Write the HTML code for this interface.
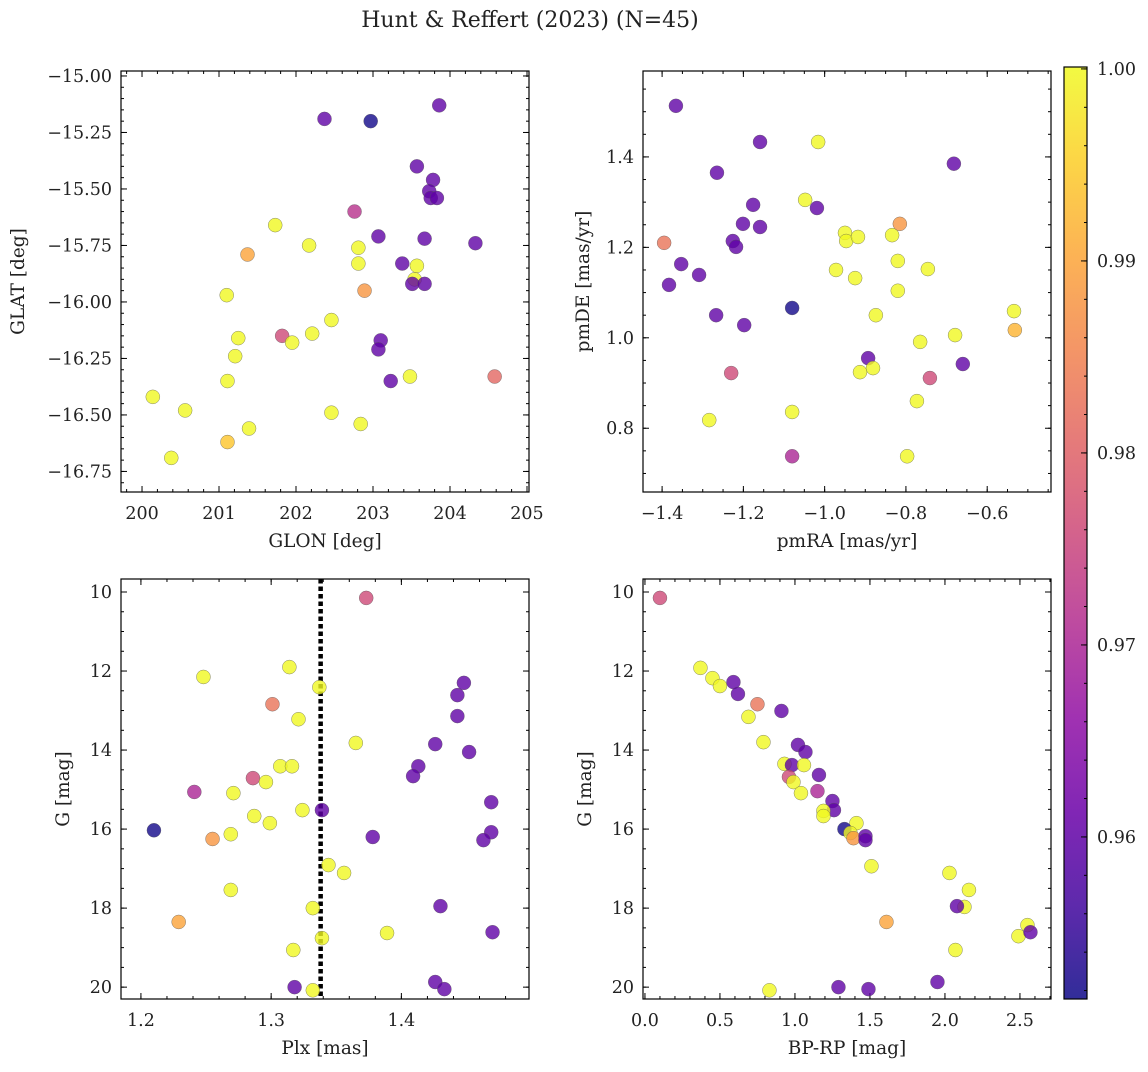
<!DOCTYPE html>
<html><head><meta charset="utf-8"><style>
body{margin:0;background:#fff}
svg text{font-family:"DejaVu Serif","Liberation Serif",serif;fill:#222}
</style></head><body>
<svg id="fig" width="1148" height="1067" xmlns="http://www.w3.org/2000/svg">
<text x="530" y="27" font-size="22" text-anchor="middle">Hunt &amp; Reffert (2023) (N=45)</text>
</svg>
<script>
// Panel 1: GLON/GLAT
const p1Glon=[203.86,202.37,202.97,203.57,203.78,203.73,203.75,203.83,202.76,201.73,203.07,203.67,204.33,202.17,202.81,201.37,202.81,203.38,203.57,201.10,203.54,203.51,203.67,202.89,202.46,201.25,201.82,203.10,202.21,201.95,203.07,201.21,203.23,203.48,201.11,204.58,200.14,200.56,202.46,201.39,202.84,201.11,200.38];
const p1Glat=[-15.13,-15.19,-15.20,-15.40,-15.46,-15.51,-15.54,-15.54,-15.60,-15.66,-15.71,-15.72,-15.74,-15.75,-15.76,-15.79,-15.83,-15.83,-15.84,-15.97,-15.90,-15.92,-15.92,-15.95,-16.08,-16.16,-16.15,-16.17,-16.14,-16.18,-16.21,-16.24,-16.35,-16.33,-16.35,-16.33,-16.42,-16.48,-16.49,-16.56,-16.54,-16.62,-16.69];
const p1Prob=[0.96,0.96,0.952,0.96,0.96,0.96,0.96,0.96,0.972,1,0.96,0.96,0.96,1,1,0.99,1,0.96,1,1,1,0.96,0.96,0.988,1,1,0.976,0.96,1,1,0.96,1,0.96,1,1,0.981,1,1,1,1,1,0.994,1];
// Panel 2: pmRA/pmDE
const p2Pmra=[-1.366,-1.395,-1.383,-1.353,-1.265,-1.159,-1.176,-1.201,-1.226,-1.218,-1.159,-1.309,-1.267,-1.198,-1.230,-1.080,-1.019,-1.016,-1.048,-0.950,-0.947,-0.918,-0.972,-0.925,-0.834,-0.815,-0.820,-0.746,-0.820,-0.874,-0.893,-0.913,-0.881,-0.765,-0.679,-0.660,-0.741,-0.682,-0.534,-0.532,-0.773,-1.080,-1.284,-1.080,-0.797];
const p2Pmde=[1.513,1.210,1.117,1.163,1.365,1.433,1.294,1.252,1.214,1.201,1.245,1.139,1.050,1.028,0.922,1.066,1.287,1.433,1.305,1.232,1.214,1.223,1.150,1.132,1.227,1.252,1.170,1.152,1.104,1.050,0.955,0.924,0.933,0.991,1.006,0.942,0.911,1.385,1.059,1.017,0.860,0.836,0.818,0.738,0.738];
const p2Prob=[0.96,0.983,0.96,0.96,0.96,0.96,0.96,0.96,0.96,0.96,0.96,0.96,0.96,0.96,0.976,0.952,0.96,1,1,1,1,1,1,1,1,0.988,1,1,1,1,0.96,1,1,1,1,0.96,0.976,0.96,1,0.992,1,1,1,0.97,1];
// Panel 3: Plx/G
const p3Plx=[1.373,1.248,1.314,1.337,1.301,1.321,1.448,1.443,1.443,1.365,1.426,1.452,1.413,1.409,1.307,1.316,1.286,1.296,1.271,1.241,1.287,1.324,1.339,1.299,1.469,1.210,1.255,1.269,1.378,1.469,1.463,1.344,1.356,1.269,1.332,1.229,1.430,1.389,1.470,1.339,1.317,1.426,1.318,1.332,1.433];
const p3G=[10.15,12.15,11.90,12.41,12.84,13.22,12.30,12.61,13.14,13.82,13.85,14.05,14.41,14.66,14.41,14.41,14.71,14.81,15.09,15.06,15.67,15.52,15.52,15.85,15.32,16.03,16.25,16.13,16.20,16.08,16.28,16.91,17.11,17.54,18.00,18.35,17.95,18.63,18.61,18.76,19.06,19.87,20.00,20.08,20.05];
const p3Prob=[0.976,1,1,1,0.983,1,0.96,0.96,0.96,1,0.96,0.96,0.96,0.96,1,1,0.976,1,1,0.97,1,1,0.96,1,0.96,0.952,0.988,1,0.96,0.96,0.96,1,1,1,1,0.99,0.96,1,0.96,1,1,0.96,0.96,1,0.96];
// Panel 4: BP-RP/G
const p4Bprp=[0.10,0.37,0.45,0.50,0.59,0.62,0.75,0.69,0.91,0.79,1.02,1.07,0.93,0.98,1.06,1.16,0.96,0.99,1.04,1.15,1.25,1.26,1.19,1.19,1.41,1.33,1.37,1.39,1.47,1.47,1.51,2.03,2.16,2.13,1.61,2.08,2.07,2.55,2.49,2.57,1.95,1.29,0.83,1.49];
const p4G=[10.15,11.92,12.18,12.38,12.28,12.58,12.84,13.16,13.01,13.80,13.87,14.05,14.35,14.38,14.38,14.63,14.68,14.81,15.09,15.04,15.29,15.52,15.54,15.67,15.85,16.00,16.10,16.23,16.18,16.28,16.94,17.11,17.54,17.97,18.35,17.95,19.06,18.43,18.71,18.61,19.87,20.00,20.08,20.05];
const p4Prob=[0.976,1,1,1,0.96,0.96,0.983,1,0.96,1,0.96,0.96,1,0.96,1,0.96,0.976,1,1,0.97,0.96,0.96,1,1,1,0.952,1,0.988,0.96,0.96,1,1,1,1,0.99,0.96,1,1,1,0.96,0.96,0.96,1,0.96];
const plxLine=1.338;
const cbTicks=[0.96,0.97,0.98,0.99,1.00];

const NS="http://www.w3.org/2000/svg";
const svg=document.getElementById('fig');
const VMIN=0.95156,VMAX=1.0001;
const TFS=17.5, LFS=18.5;
const stops=["#0d0887","#41049d","#6a00a8","#8f0da4","#b12a90","#cc4778","#e16462","#f2844b","#fca636","#fcce25","#f0f921"];
function hx(c){return [1,3,5].map(i=>parseInt(c.substr(i,2),16));}
function plasma(t){t=Math.max(0,Math.min(1,t));const f=t*10,i=Math.min(9,Math.floor(f)),u=f-i;const a=hx(stops[i]),b=hx(stops[i+1]);return 'rgb('+a.map((v,k)=>Math.round(v+(b[k]-v)*u)).join(',')+')';}
function el(tag,attrs,parent){const e=document.createElementNS(NS,tag);for(const k in attrs)e.setAttribute(k,attrs[k]);(parent||svg).appendChild(e);return e;}
function fmt(v,d){const s=Math.abs(v).toFixed(d);return (v<-1e-9?'\u2212':'')+s;}

function panel(cfg){
  const g=el('g',{});
  
  
  const {L,T,R,B}=cfg;
  const sx=v=>L+(v-cfg.x0)/(cfg.x1-cfg.x0)*(R-L);
  const sy=v=>cfg.yinv?T+(v-cfg.y0)/(cfg.y1-cfg.y0)*(B-T):B-(v-cfg.y0)/(cfg.y1-cfg.y0)*(B-T);
  const tg=el('g',{stroke:'#000','stroke-width':1},g);
  function ticksX(step,len,labels,dec){
    const s=Math.ceil(Math.min(cfg.x0,cfg.x1)/step-1e-6);
    for(let k=s;k*step<=Math.max(cfg.x0,cfg.x1)+1e-9;k++){const v=k*step,x=sx(v);
      el('line',{x1:x,x2:x,y1:B,y2:B-len},tg);el('line',{x1:x,x2:x,y1:T,y2:T+len},tg);
      if(labels){const t=el('text',{x:x,y:B+27,'font-size':TFS,'text-anchor':'middle'},g);t.textContent=fmt(v,dec);
        }}
  }
  function ticksY(step,len,labels,dec){
    const lo=Math.min(cfg.y0,cfg.y1),hi=Math.max(cfg.y0,cfg.y1);
    const s=Math.ceil(lo/step-1e-6);
    for(let k=s;k*step<=hi+1e-9;k++){const v=k*step,y=sy(v);
      el('line',{x1:L,x2:L+len,y1:y,y2:y},tg);el('line',{x1:R,x2:R-len,y1:y,y2:y},tg);
      if(labels){const t=el('text',{x:L-9,y:y+6,'font-size':TFS,'text-anchor':'end'},g);t.textContent=fmt(v,dec);
        }}
  }
  ticksX(cfg.xmin,3,false);ticksX(cfg.xmaj,6,true,cfg.xdec);
  ticksY(cfg.ymin,3,false);ticksY(cfg.ymaj,6,true,cfg.ydec);
  if(cfg.vline!==undefined){const x=sx(cfg.vline);const ln=el('line',{x1:x,x2:x,y1:T,y2:B,stroke:'#000','stroke-width':4.5,'stroke-dasharray':'4.5,3'},g);
    }
  const pg=el('g',{},g);
  
  for(let i=0;i<cfg.xs.length;i++){
    const c=el('circle',{cx:sx(cfg.xs[i]),cy:sy(cfg.ys[i]),r:7,fill:plasma((cfg.ps[i]-VMIN)/(VMAX-VMIN)),'fill-opacity':0.8,stroke:'#555','stroke-width':0.5,'stroke-opacity':0.7},pg);
    
    
  }
  const fr=el('rect',{x:L,y:T,width:R-L,height:B-T,fill:'none',stroke:'#000','stroke-width':1.2},g);
  
  const xl=el('text',{x:(L+R)/2,y:B+55,'font-size':LFS,'text-anchor':'middle'},g);xl.textContent=cfg.xlabel;
  
  const yx=cfg.ylx,yy=(T+B)/2;
  const yl=el('text',{x:yx,y:yy,'font-size':LFS,'text-anchor':'middle',transform:`rotate(-90 ${yx} ${yy})`},g);yl.textContent=cfg.ylabel;
  
}

panel({name:'glon-glat-panel',L:121,T:71,R:529,B:492,x0:199.727,x1:205.026,y0:-16.841,y1:-14.978,xmaj:1,xmin:0.2,ymaj:0.25,ymin:0.05,xdec:0,ydec:2,xs:p1Glon,ys:p1Glat,ps:p1Prob,xlabel:'GLON [deg]',ylabel:'GLAT [deg]',ylx:24});
panel({name:'proper-motion-panel',L:643,T:71,R:1051,B:492,x0:-1.447,x1:-0.443,y0:0.659,y1:1.590,xmaj:0.2,xmin:0.05,ymaj:0.2,ymin:0.05,xdec:1,ydec:1,xs:p2Pmra,ys:p2Pmde,ps:p2Prob,xlabel:'pmRA [mas/yr]',ylabel:'pmDE [mas/yr]',ylx:589});
panel({name:'parallax-magnitude-panel',L:121,T:579,R:529,B:999,x0:1.1847,x1:1.498,y0:9.671,y1:20.30,yinv:true,xmaj:0.1,xmin:0.02,ymaj:2,ymin:0.5,xdec:1,ydec:0,xs:p3Plx,ys:p3G,ps:p3Prob,xlabel:'Plx [mas]',ylabel:'G [mag]',ylx:69,vline:plxLine});
panel({name:'color-magnitude-panel',L:643,T:579,R:1051,B:999,x0:-0.013,x1:2.707,y0:9.671,y1:20.30,yinv:true,xmaj:0.5,xmin:0.1,ymaj:2,ymin:0.5,xdec:1,ydec:0,xs:p4Bprp,ys:p4G,ps:p4Prob,xlabel:'BP-RP [mag]',ylabel:'G [mag]',ylx:591});

// colorbar
const cb=el('g',{});


const CL=1064,CR=1087,CT=67,CB=999;
const defs=el('defs',{},cb);
const lg=el('linearGradient',{id:'cbg',x1:0,y1:1,x2:0,y2:0},defs);
for(let i=0;i<=20;i++){el('stop',{offset:i/20,'stop-color':plasma(i/20),'stop-opacity':0.85},lg);}
el('rect',{x:CL,y:CT,width:CR-CL,height:CB-CT,fill:'url(#cbg)'},cb);
const cy=v=>CB-(v-VMIN)/(VMAX-VMIN)*(CB-CT);
for(let v=0.952;v<=1.0001;v+=0.002){const y=cy(v);el('line',{x1:CR,x2:CR-3,y1:y,y2:y,stroke:'#000'},cb);}
cbTicks.forEach(v=>{const y=cy(v);el('line',{x1:CR,x2:CR-6,y1:y,y2:y,stroke:'#000'},cb);
  const t=el('text',{x:CR+10,y:y+6,'font-size':TFS},cb);t.textContent=v.toFixed(2);
  });
el('rect',{x:CL,y:CT,width:CR-CL,height:CB-CT,fill:'none',stroke:'#000','stroke-width':1.2},cb);
</script>
</body></html>
